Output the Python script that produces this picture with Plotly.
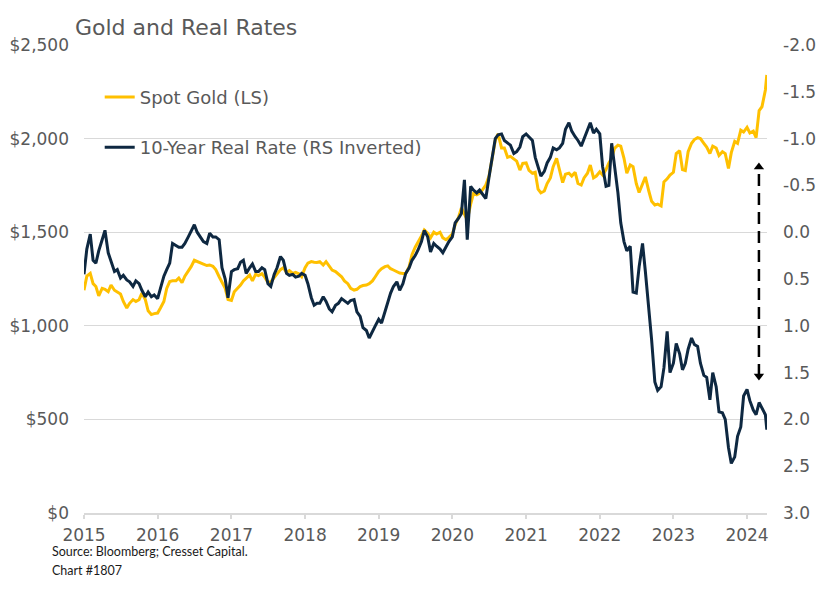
import pandas as pd
import plotly.graph_objects as go

# ---------------- data (semi-monthly) ----------------
DATES = list(pd.date_range("2015-01-01", "2024-04-01", freq="SMS").strftime("%Y-%m-%d")) + ["2024-04-08"]

GOLD = [
    # 2015
    1190, 1265, 1280, 1225, 1210, 1160, 1200, 1195, 1182, 1218, 1190, 1180,
    1170, 1130, 1095, 1120, 1140, 1130, 1140, 1175, 1140, 1080, 1060, 1065,
    # 2016
    1068, 1095, 1130, 1200, 1236, 1240, 1240, 1255, 1230, 1265, 1290, 1316,
    1350, 1345, 1335, 1330, 1322, 1325, 1318, 1300, 1262, 1230, 1200, 1140,
    # 2017
    1135, 1182, 1200, 1218, 1240, 1254, 1271, 1240, 1275, 1268, 1278, 1260,
    1232, 1235, 1260, 1280, 1300, 1310, 1285, 1295, 1280, 1285, 1278, 1262,
    # 2018
    1310, 1335, 1343, 1340, 1338, 1343, 1325, 1343, 1320, 1298, 1290, 1275,
    1262, 1240, 1225, 1200, 1191, 1195, 1209, 1215, 1218, 1225, 1240, 1262,
    # 2019
    1290, 1305, 1316, 1320, 1305, 1298, 1290, 1282, 1280, 1280, 1316, 1380,
    1420, 1445, 1480, 1512, 1495, 1470, 1500, 1490, 1500, 1470, 1460, 1472,
    # 2020
    1490, 1540, 1580, 1630, 1600, 1565, 1650, 1708, 1700, 1708, 1730, 1752,
    1800, 1880, 1990, 2025, 1950, 1950, 1900, 1905, 1890, 1880, 1832, 1868,
    # 2021
    1870, 1830, 1815, 1820, 1730, 1710, 1720, 1760, 1790, 1850, 1895, 1830,
    1765, 1810, 1815, 1800, 1820, 1760, 1752, 1790, 1815, 1859, 1790, 1800,
    # 2022
    1823, 1806, 1835, 1870, 1895, 1948, 1965, 1960, 1895, 1815, 1859, 1850,
    1760, 1712, 1760, 1795, 1720, 1665, 1645, 1650, 1640, 1768, 1785, 1805,
    # 2023
    1820, 1920, 1935, 1835, 1830, 1930, 1975, 1995, 2005, 2000, 1975, 1955,
    1920, 1960, 1950, 1910, 1930, 1920, 1840, 1925, 1985, 1975, 2045, 2035,
    # 2024
    2060, 2030, 2040, 2005, 2150, 2170, 2260, 2340,
]

REAL_RATE = [
    # 2015
    0.45, 0.18, 0.02, 0.30, 0.33, 0.20, 0.08, -0.02, 0.22, 0.32, 0.42, 0.40,
    0.49, 0.46, 0.51, 0.53, 0.58, 0.52, 0.55, 0.62, 0.69, 0.64, 0.69, 0.67,
    # 2016
    0.71, 0.60, 0.47, 0.40, 0.33, 0.12, 0.14, 0.16, 0.16, 0.12, 0.05, -0.02,
    -0.08, 0.00, 0.05, 0.10, 0.12, 0.01, 0.05, 0.05, 0.08, 0.38, 0.50, 0.70,
    # 2017
    0.42, 0.40, 0.39, 0.32, 0.30, 0.44, 0.38, 0.34, 0.42, 0.42, 0.38, 0.40,
    0.55, 0.58, 0.45, 0.38, 0.26, 0.30, 0.44, 0.46, 0.45, 0.48, 0.47, 0.44,
    # 2018
    0.46, 0.55, 0.70, 0.78, 0.76, 0.76, 0.69, 0.74, 0.82, 0.85, 0.78, 0.76,
    0.71, 0.73, 0.76, 0.73, 0.72, 0.85, 0.90, 1.02, 1.05, 1.13, 1.05, 1.00,
    # 2019
    0.93, 0.97, 0.85, 0.75, 0.65, 0.58, 0.53, 0.62, 0.55, 0.44, 0.38, 0.30,
    0.25, 0.19, 0.10, -0.02, 0.05, 0.21, 0.12, 0.15, 0.18, 0.22, 0.15, 0.10,
    # 2020
    0.05, -0.10, -0.15, -0.20, -0.56, 0.08, -0.49, -0.45, -0.42, -0.45, -0.40, -0.36,
    -0.59, -0.80, -1.00, -1.04, -1.05, -0.98, -0.95, -0.93, -0.84, -0.86, -0.91, -1.02,
    # 2021
    -1.05, -1.02, -0.98, -0.80, -0.70, -0.60, -0.65, -0.74, -0.80, -0.90, -0.88, -0.90,
    -0.95, -1.10, -1.17, -1.08, -1.02, -0.98, -0.92, -1.00, -1.10, -1.17, -1.06, -1.10,
    # 2022
    -1.05, -0.70, -0.49, -0.50, -0.95, -0.70, -0.42, -0.10, 0.10, 0.20, 0.15, 0.64,
    0.65, 0.37, 0.12, 0.42, 0.80, 1.15, 1.60, 1.69, 1.65, 1.45, 1.06, 1.50,
    # 2023
    1.40, 1.19, 1.30, 1.47, 1.40, 1.25, 1.13, 1.20, 1.22, 1.40, 1.53, 1.55,
    1.79, 1.50, 1.65, 1.92, 1.93, 2.00, 2.30, 2.47, 2.40, 2.18, 2.08, 1.75,
    # 2024
    1.68, 1.80, 1.90, 1.95, 1.82, 1.88, 1.95, 2.11,
]

LEFT_TICKS = [0, 500, 1000, 1500, 2000, 2500]
LEFT_LABELS = ["$0", "$500", "$1,000", "$1,500", "$2,000", "$2,500"]
RIGHT_TICKS = [-2.0, -1.5, -1.0, -0.5, 0.0, 0.5, 1.0, 1.5, 2.0, 2.5, 3.0]
RIGHT_LABELS = ["-2.0", "-1.5", "-1.0", "-0.5", "0.0", "0.5", "1.0", "1.5", "2.0", "2.5", "3.0"]

ARROW_X = ["2024-02-29", "2024-02-29"]
ARROW_Y = [732, 1848]   # gap between the two lines (left-axis units)

TITLE = "Gold and Real Rates"
SOURCE = "Source: Bloomberg; Cresset Capital."
CHART_NO = "Chart #1807"

GOLD_COLOR = "#FFC000"
NAVY = "#0E2841"
GRAY_TEXT = "#595959"
GRID = "#D9D9D9"
FONT = "DejaVu Sans"

fig = go.Figure()
fig.add_trace(go.Scatter(
    x=DATES, y=GOLD, name="Spot Gold (LS)", mode="lines",
    line=dict(color=GOLD_COLOR, width=3), legendgroup="a", yaxis="y",
))
fig.add_trace(go.Scatter(
    x=DATES, y=REAL_RATE, name="10-Year Real Rate (RS Inverted)", mode="lines",
    line=dict(color=NAVY, width=3), legendgroup="b", yaxis="y2",
))
fig.add_trace(go.Scatter(
    x=ARROW_X, y=ARROW_Y, mode="lines+markers", showlegend=False, hoverinfo="skip",
    line=dict(color="black", width=2.5, dash="12px,7px"),
    marker=dict(symbol=["triangle-down", "triangle-up"], size=9, color="black"),
    yaxis="y",
))

fig.update_layout(
    width=821, height=595,
    margin=dict(l=84, r=54, t=45, b=82),
    paper_bgcolor="white", plot_bgcolor="white",
    font=dict(family=FONT, size=17, color=GRAY_TEXT),
    title=dict(text=TITLE, x=75 / 821, xref="container", xanchor="left",
               y=1 - 27 / 595, yref="container", yanchor="middle",
               font=dict(family=FONT, size=22, color=GRAY_TEXT)),
    showlegend=True,
    legend=dict(x=0.023, y=0.928, xanchor="left", yanchor="top",
                bgcolor="rgba(0,0,0,0)", font=dict(family=FONT, size=18, color=GRAY_TEXT),
                tracegroupgap=24, traceorder="grouped"),
    xaxis=dict(
        type="date", range=["2015-01-01", "2024-04-09"],
        tick0="2015-01-01", dtick="M12", tickformat="%Y",
        showgrid=False, zeroline=False, automargin=False,
        showline=True, linecolor=GRID, linewidth=1.5,
        ticks="outside", ticklen=4, tickcolor=GRID, tickwidth=1.5,
        tickfont=dict(family=FONT, size=17, color=GRAY_TEXT),
        ticklabelstandoff=2,
    ),
    yaxis=dict(
        range=[0, 2500], tickvals=LEFT_TICKS, ticktext=LEFT_LABELS,
        showgrid=True, gridcolor=GRID, gridwidth=1, zeroline=False,
        showline=False, ticks="", ticklabelstandoff=14, automargin=False,
        tickfont=dict(family=FONT, size=17, color=GRAY_TEXT),
    ),
    yaxis2=dict(
        overlaying="y", side="right", range=[3.0, -2.0],
        tickvals=RIGHT_TICKS, ticktext=RIGHT_LABELS,
        showgrid=False, zeroline=False, showline=False, ticks="",
        ticklabelstandoff=15, automargin=False,
        tickfont=dict(family=FONT, size=17, color=GRAY_TEXT),
    ),
    annotations=[
        dict(text=SOURCE, xref="paper", yref="paper", x=(50 - 84) / 683, y=(513 - 551) / 468,
             xanchor="left", yanchor="middle", showarrow=False,
             font=dict(family="Lato", size=12.5, color="#1a1a1a")),
        dict(text=CHART_NO, xref="paper", yref="paper", x=(50 - 84) / 683, y=(513 - 570) / 468,
             xanchor="left", yanchor="middle", showarrow=False,
             font=dict(family="Lato", size=12.5, color="#1a1a1a")),
    ],
)

fig.write_html("out.html")
